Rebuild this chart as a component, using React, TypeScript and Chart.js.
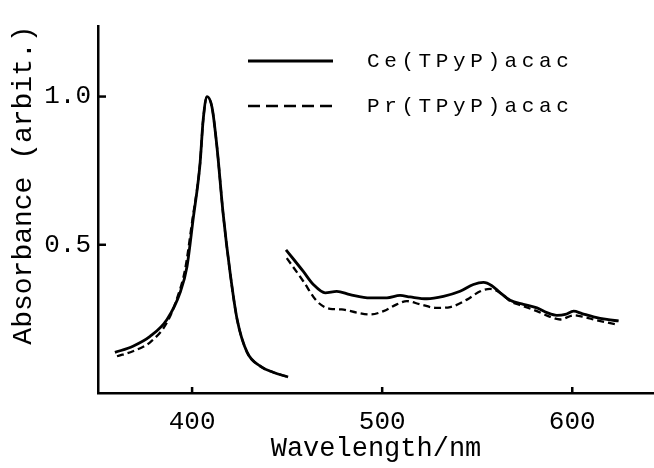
import React, { useEffect, useRef } from "react";
import { Chart, registerables } from "chart.js";

Chart.register(...registerables);

// Wavelength (nm) / absorbance
const ceSoretX = [359.4, 368.9, 377.9, 386.8, 393.7, 397.3, 400.5, 404.2, 405.8, 407.9, 410.5, 413.1, 416.3, 420, 423.7, 428.9, 435.8, 442.6, 450.5];
const ceSoretY = [0.137, 0.158, 0.191, 0.248, 0.339, 0.426, 0.584, 0.775, 0.919, 1.0, 0.963, 0.829, 0.607, 0.406, 0.248, 0.138, 0.091, 0.07, 0.054];
const prSoretX = [360.5, 368.9, 377.9, 386.8, 392.6, 396.3, 400.0, 404.2, 405.8, 407.9, 410.5, 413.1, 416.3, 420, 423.7, 428.9, 435.8, 442.6, 450.5];
const prSoretY = [0.124, 0.141, 0.171, 0.238, 0.329, 0.416, 0.577, 0.775, 0.919, 1.0, 0.963, 0.829, 0.607, 0.406, 0.248, 0.138, 0.091, 0.07, 0.054];

const ceQX = [449.4, 458.5, 463.8, 470, 476.1, 483.1, 493.7, 502.5, 509.4, 514.7, 523.5, 532.2, 541, 548, 553.3, 557.7, 562.1, 567.3, 574.3, 581.4, 586.7, 591.9, 596.3, 600.7, 605.1, 611.2, 618.2, 624.4];
const ceQY = [0.483, 0.41, 0.366, 0.338, 0.343, 0.332, 0.321, 0.321, 0.329, 0.324, 0.318, 0.326, 0.343, 0.366, 0.373, 0.362, 0.338, 0.313, 0.299, 0.287, 0.271, 0.262, 0.265, 0.276, 0.268, 0.257, 0.248, 0.243];
const prQX = [449.8, 458.5, 465.6, 472.6, 478.7, 486.7, 493.7, 500.7, 507.7, 513, 520, 528.8, 535.8, 544.6, 551.6, 556.8, 562.1, 567.3, 574.3, 581.4, 588.4, 593.7, 600.7, 605.9, 612.9, 623.5];
const prQY = [0.455, 0.377, 0.31, 0.284, 0.282, 0.271, 0.265, 0.276, 0.299, 0.31, 0.299, 0.287, 0.29, 0.315, 0.343, 0.351, 0.338, 0.31, 0.293, 0.276, 0.257, 0.248, 0.262, 0.257, 0.245, 0.231];

const xTicks = [400, 500, 600];
const yTicks = [0.5, 1.0];
const seriesLabels = ["Ce(TPyP)acac", "Pr(TPyP)acac"];
const xTitle = "Wavelength/nm";
const yTitle = "Absorbance (arbit.)";

const join = (ax: number[], ay: number[], bx: number[], by: number[]) => [
  ...ax.map((x, i) => ({ x, y: ay[i] })),
  { x: (ax[ax.length - 1] + bx[0]) / 2, y: null as any },
  ...bx.map((x, i) => ({ x, y: by[i] })),
];

const MONO = "'Liberation Mono', 'DejaVu Sans Mono', monospace";

const decorations = {
  id: "decorations",
  afterDraw(chart: any) {
    const { ctx, chartArea, scales } = chart;
    ctx.save();
    ctx.strokeStyle = "#000";
    ctx.lineWidth = 2.5;
    for (const v of xTicks) {
      const px = scales.x.getPixelForValue(v);
      ctx.beginPath();
      ctx.moveTo(px, chartArea.bottom);
      ctx.lineTo(px, chartArea.bottom - 6);
      ctx.stroke();
    }
    for (const v of yTicks) {
      const py = scales.y.getPixelForValue(v);
      ctx.beginPath();
      ctx.moveTo(chartArea.left, py);
      ctx.lineTo(chartArea.left + 8, py);
      ctx.stroke();
    }
    // y axis title
    ctx.fillStyle = "#000";
    ctx.font = `28px ${MONO}`;
    ctx.textAlign = "center";
    ctx.textBaseline = "middle";
    ctx.translate(24, 185);
    ctx.rotate(-Math.PI / 2);
    ctx.fillText(yTitle, 0, 0);
    ctx.restore();

    // legend
    const rows = [61, 106];
    ctx.save();
    chart.data.datasets.forEach((ds: any, i: number) => {
      const y = rows[i];
      ctx.strokeStyle = "#000";
      ctx.lineWidth = i === 0 ? 2.8 : 2.3;
      ctx.setLineDash(i === 0 ? [] : [12, 6]);
      ctx.beginPath();
      ctx.moveTo(248, y);
      ctx.lineTo(333, y);
      ctx.stroke();
      ctx.setLineDash([]);
      ctx.fillStyle = "#000";
      ctx.font = `21px ${MONO}`;
      ctx.textAlign = "left";
      ctx.textBaseline = "middle";
      (ctx as any).letterSpacing = "4.6px";
      ctx.fillText(ds.label, 367, y);
    });
    ctx.restore();
  },
};

export default function App() {
  const ref = useRef<HTMLCanvasElement>(null);
  useEffect(() => {
    if (!ref.current) return;
    const chart = new Chart(ref.current, {
      type: "line",
      data: {
        datasets: [
          {
            label: seriesLabels[0],
            data: join(ceSoretX, ceSoretY, ceQX, ceQY),
            borderColor: "#000",
            borderWidth: 2.8,
            pointRadius: 0,
            cubicInterpolationMode: "monotone",
            spanGaps: false,
          },
          {
            label: seriesLabels[1],
            data: join(prSoretX, prSoretY, prQX, prQY),
            borderColor: "#000",
            borderWidth: 2.3,
            borderDash: [7, 4],
            pointRadius: 0,
            cubicInterpolationMode: "monotone",
            spanGaps: false,
          },
        ],
      },
      options: {
        animation: false,
        responsive: false,
        layout: { padding: { top: 26, right: 0, left: 0, bottom: 0 } },
        plugins: { legend: { display: false }, tooltip: { enabled: false } },
        scales: {
          x: {
            type: "linear",
            min: 350.5,
            max: 643,
            grid: { display: false, drawTicks: false },
            border: { display: true, color: "#000", width: 2.5 },
            afterBuildTicks: (s: any) => { s.ticks = xTicks.map((value) => ({ value })); },
            afterFit: (s: any) => { s.height = 75; s.paddingLeft = 0; s.paddingRight = 0; },
            ticks: { color: "#000", font: { family: MONO, size: 26 }, padding: 14, maxRotation: 0, autoSkip: false },
            title: { display: true, text: xTitle, color: "#000", font: { family: MONO, size: 27 }, padding: { top: 0, bottom: 3 } },
          },
          y: {
            type: "linear",
            min: 0,
            max: 1.238,
            grid: { display: false, drawTicks: false },
            border: { display: true, color: "#000", width: 2.5 },
            afterBuildTicks: (s: any) => { s.ticks = yTicks.map((value) => ({ value })); },
            afterFit: (s: any) => { s.width = 98; s.paddingTop = 0; s.paddingBottom = 0; },
            ticks: { color: "#000", font: { family: MONO, size: 26 }, padding: 7, callback: (v: any) => Number(v).toFixed(1) },
            title: { display: false, text: yTitle },
          },
        },
      },
      plugins: [decorations],
    });
    return () => chart.destroy();
  }, []);
  return (
    <div style={{ position: "fixed", left: 0, top: 0, width: 654, height: 468, background: "#fff" }}>
      <canvas ref={ref} width={654} height={468} />
    </div>
  );
}
